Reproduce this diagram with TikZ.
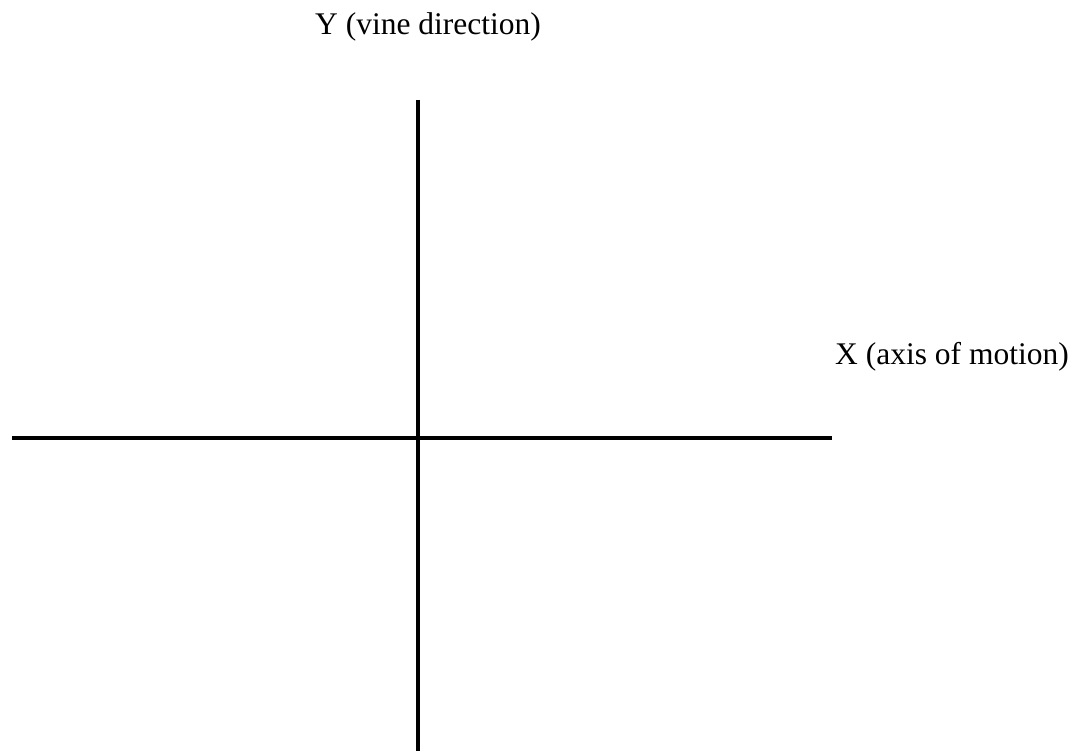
\documentclass[tikz,border=0pt]{standalone}
\usepackage{fontspec}
\setmainfont{Liberation Serif}
\begin{document}
\begin{tikzpicture}[x=1pt,y=-1pt,
  axisline/.style={line width=4pt,black},
  axislabel/.style={anchor=base west,inner sep=0pt,font=\fontsize{31.5}{36}\selectfont}]
\useasboundingbox (0,0) rectangle (1078,751);
\coordinate (ytop) at (418,100);
\coordinate (ybot) at (418,751);
\coordinate (xleft) at (12,438);
\coordinate (xright) at (832,438);
\draw[axisline] (ytop) -- (ybot);
\draw[axisline] (xleft) -- (xright);
\node[axislabel] (ylabel) at (315,35) {Y (vine direction)};
\node[axislabel] (xlabel) at (835,364) {X (axis of motion)};
\end{tikzpicture}
\end{document}
